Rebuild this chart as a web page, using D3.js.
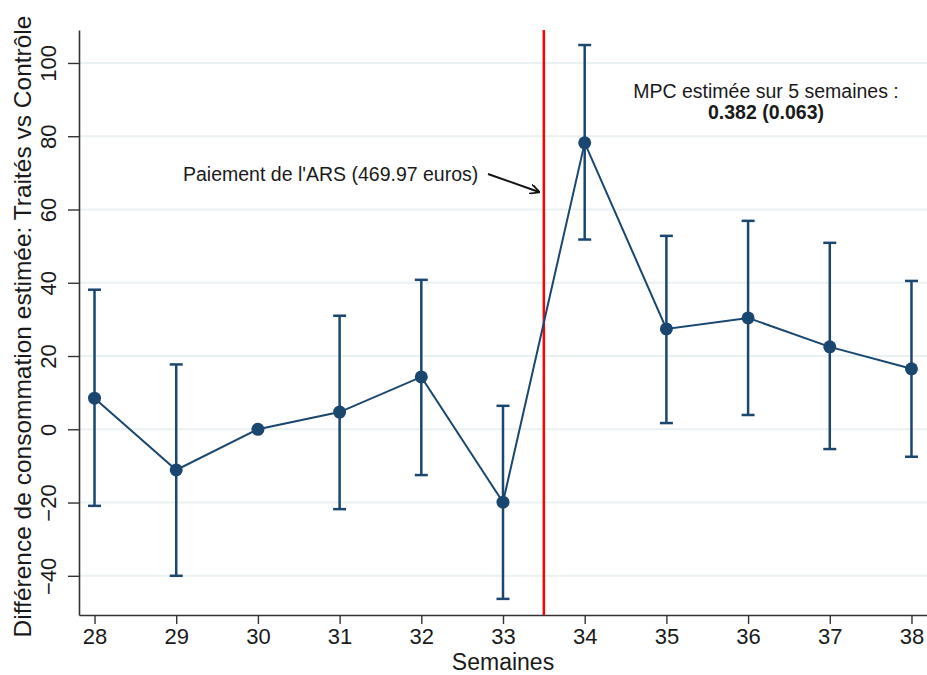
<!DOCTYPE html>
<html>
<head>
<meta charset="utf-8">
<script src="https://cdn.jsdelivr.net/npm/d3@7"></script>
<style>
  body { margin: 0; background: #fff; }
  text { font-family: "Liberation Sans", Arial, sans-serif; fill: #1a1a1a; }
</style>
</head>
<body>
<svg id="chart"></svg>
<script>
var weeks = [28, 29, 30, 31, 32, 33, 34, 35, 36, 37, 38];
var estimates = [8.5, -11.1, 0, 4.7, 14.3, -19.9, 78.2, 27.4, 30.4, 22.5, 16.5];
var ciUpper = [38.1, 17.7, null, 31.0, 40.8, 6.4, 104.9, 52.8, 56.9, 50.9, 40.5];
var ciLower = [-20.9, -40.0, null, -21.8, -12.5, -46.3, 51.8, 1.7, 3.9, -5.4, -7.5];
var yTicks = [-40, -20, 0, 20, 40, 60, 80, 100];
var paymentWeek = 33.5;

var width = 927;
var height = 675;
var margin = { left: 79, right: 0, top: 30, bottom: 60 };

var svg = d3.select("#chart")
            .attr("width", width)
            .attr("height", height);

var x = d3.scaleLinear()
          .domain([27.81, 38.19])
          .range([margin.left, width - margin.right]);

var y = d3.scaleLinear()
          .domain([-50.7, 109])
          .range([height - margin.bottom, margin.top]);

var navy = "#1a476f";

// grid lines
svg.append("g")
  .selectAll("line")
  .data(yTicks)
  .enter()
  .append("line")
    .attr("x1", margin.left)
    .attr("x2", width)
    .attr("y1", d => y(d))
    .attr("y2", d => y(d))
    .attr("stroke", "#e9f1f3")
    .attr("stroke-width", 2);

// axes
var yAxis = svg.append("g")
  .attr("transform", "translate(" + margin.left + ",0)")
  .call(d3.axisLeft(y).tickValues(yTicks).tickSizeInner(11).tickSizeOuter(0).tickFormat(d3.format("d")));

var xAxis = svg.append("g")
  .attr("transform", "translate(0," + (height - margin.bottom) + ")")
  .call(d3.axisBottom(x).tickValues(weeks).tickSizeInner(9).tickSizeOuter(0).tickFormat(d3.format("d")));

[xAxis, yAxis].forEach(function(ax) {
  ax.select(".domain").attr("stroke", "#333").attr("stroke-width", 1.6);
  ax.selectAll(".tick line").attr("stroke", "#333").attr("stroke-width", 1.4);
  ax.selectAll(".tick text")
    .attr("fill", "#1a1a1a")
    .style("font-family", "Liberation Sans, Arial, sans-serif")
    .style("font-size", "22px");
});

yAxis.selectAll(".tick text")
  .attr("transform", "rotate(-90)")
  .attr("x", 0)
  .attr("y", -23)
  .attr("dy", 0)
  .style("text-anchor", "middle");

xAxis.selectAll(".tick text")
  .attr("y", 29)
  .attr("dy", 0);

// payment line
svg.append("line")
  .attr("x1", x(paymentWeek))
  .attr("x2", x(paymentWeek))
  .attr("y1", margin.top)
  .attr("y2", height - margin.bottom)
  .attr("stroke", "#ff0000")
  .attr("stroke-width", 2.5);

// series
var points = weeks.map(function(w, i) {
  return { week: w, est: estimates[i], hi: ciUpper[i], lo: ciLower[i] };
});

var line = d3.line()
  .x(d => x(d.week))
  .y(d => y(d.est));

svg.append("path")
  .datum(points)
  .attr("d", line)
  .attr("fill", "none")
  .attr("stroke", navy)
  .attr("stroke-width", 2);

var ci = svg.append("g")
  .selectAll("g")
  .data(points.filter(d => d.hi !== null))
  .enter()
  .append("g")
    .attr("stroke", navy)
    .attr("stroke-width", 2.5);

ci.append("line")
  .attr("x1", d => x(d.week))
  .attr("x2", d => x(d.week))
  .attr("y1", d => y(d.hi))
  .attr("y2", d => y(d.lo));

ci.append("line")
  .attr("x1", d => x(d.week) - 6.5)
  .attr("x2", d => x(d.week) + 6.5)
  .attr("y1", d => y(d.hi))
  .attr("y2", d => y(d.hi));

ci.append("line")
  .attr("x1", d => x(d.week) - 6.5)
  .attr("x2", d => x(d.week) + 6.5)
  .attr("y1", d => y(d.lo))
  .attr("y2", d => y(d.lo));

svg.append("g")
  .selectAll("circle")
  .data(points)
  .enter()
  .append("circle")
    .attr("cx", d => x(d.week))
    .attr("cy", d => y(d.est))
    .attr("r", 6.5)
    .attr("fill", navy);

// axis titles
svg.append("text")
  .attr("transform", "translate(31," + ((margin.top + height - margin.bottom) / 2 + 4) + ") rotate(-90)")
  .style("text-anchor", "middle")
  .style("font-size", "24.5px")
  .text("Différence de consommation estimée: Traités vs Contrôle");

svg.append("text")
  .attr("x", x(33))
  .attr("y", 670)
  .style("text-anchor", "middle")
  .style("font-size", "23px")
  .text("Semaines");

// annotations
svg.append("defs").append("marker")
  .attr("id", "arrow")
  .attr("viewBox", "0 0 10 10")
  .attr("refX", 9)
  .attr("refY", 5)
  .attr("markerWidth", 10)
  .attr("markerHeight", 10)
  .attr("orient", "auto")
  .attr("markerUnits", "userSpaceOnUse")
  .append("path")
    .attr("d", "M0,0 L10,5 L0,10")
    .attr("fill", "none")
    .attr("stroke", "#111")
    .attr("stroke-width", 1.8);

svg.append("line")
  .attr("x1", 488)
  .attr("y1", 174)
  .attr("x2", 539)
  .attr("y2", 192)
  .attr("stroke", "#111")
  .attr("stroke-width", 2)
  .attr("marker-end", "url(#arrow)");

svg.append("text")
  .attr("x", 183)
  .attr("y", 181)
  .style("font-size", "19.5px")
  .text("Paiement de l'ARS (469.97 euros)");

svg.append("text")
  .attr("x", 766)
  .attr("y", 98)
  .style("text-anchor", "middle")
  .style("font-size", "19.5px")
  .text("MPC estimée sur 5 semaines :");

svg.append("text")
  .attr("x", 766)
  .attr("y", 119)
  .style("text-anchor", "middle")
  .style("font-size", "19.5px")
  .style("font-weight", "bold")
  .text("0.382 (0.063)");
</script>
</body>
</html>
